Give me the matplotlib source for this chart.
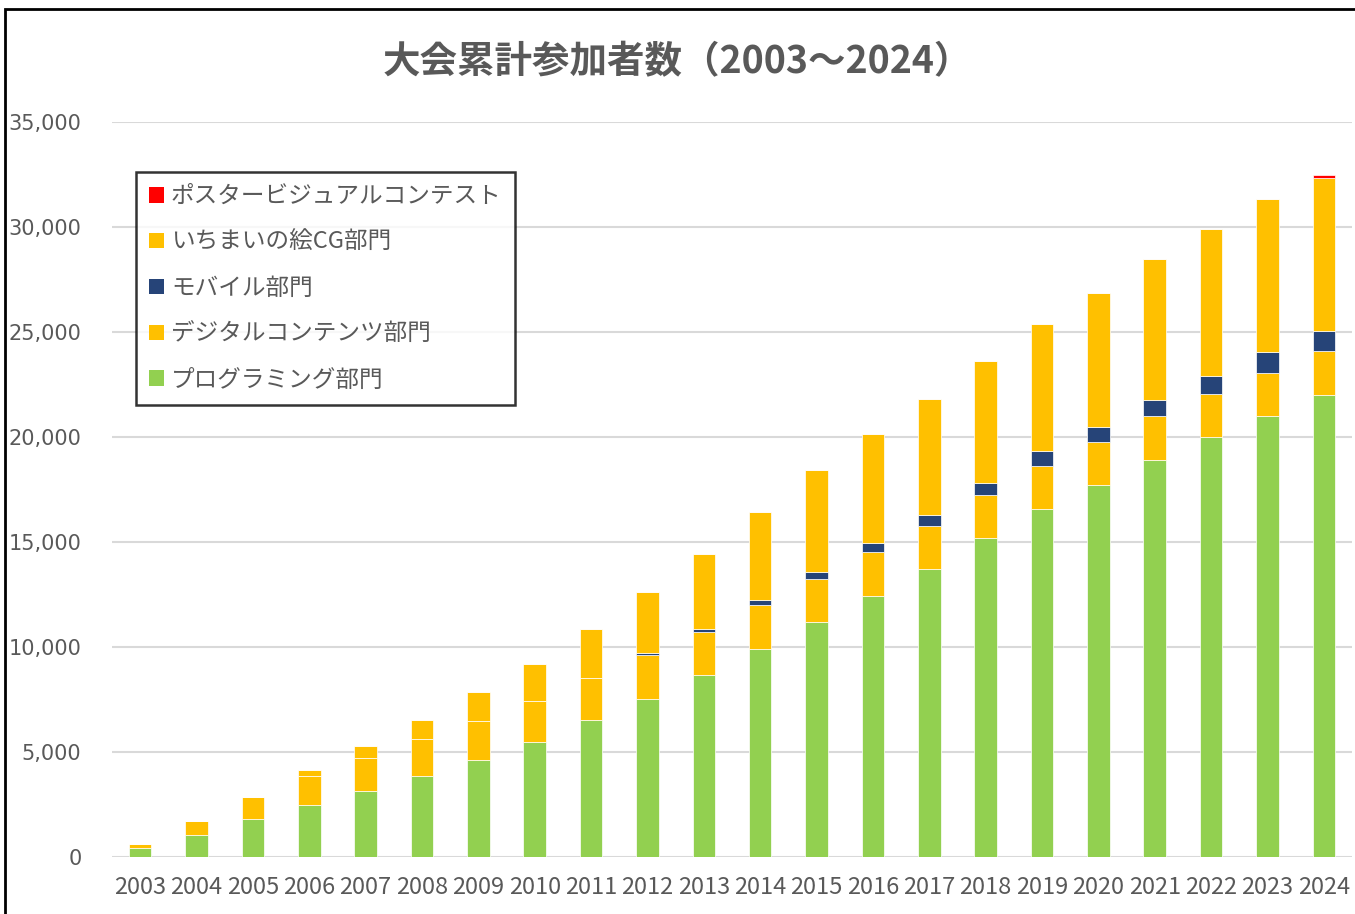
import numpy as np
import matplotlib
matplotlib.use("Agg")
from matplotlib import pyplot as plt
from matplotlib.patches import Patch, Rectangle

plt.rcParams['font.family'] = ['Noto Sans CJK JP', 'DejaVu Sans']

years = [str(y) for y in range(2003, 2025)]

# 累計参加者数（積み上げ）
programming = [430, 1030, 1800, 2460, 3160, 3870, 4630, 5460, 6510, 7540, 8680,
               9900, 11170, 12440, 13730, 15180, 16590, 17700, 18920, 19990, 21010, 22010]
digital = [170, 700, 1040, 1380, 1540, 1730, 1830, 1950, 2000, 2080, 2050,
           2090, 2070, 2080, 2030, 2060, 2040, 2060, 2070, 2060, 2060, 2090]
mobile = [0, 0, 0, 0, 0, 0, 0, 0, 0, 80, 130,
          230, 330, 420, 530, 570, 690, 720, 770, 870, 960, 950]
ichimai = [0, 0, 0, 320, 570, 940, 1410, 1780, 2360, 2930, 3570,
           4210, 4860, 5220, 5520, 5810, 6060, 6380, 6730, 7000, 7290, 7280]
poster = [0] * 21 + [130]

series = [
    ('プログラミング部門', programming, '#92D050'),
    ('デジタルコンテンツ部門', digital, '#FFC000'),
    ('モバイル部門', mobile, '#264478'),
    ('いちまいの絵CG部門', ichimai, '#FFC000'),
    ('ポスタービジュアルコンテスト', poster, '#FF0000'),
]

txt = '#595959'

fig = plt.figure(figsize=(13.55, 9.14), dpi=100)
ax = fig.add_axes([112 / 1355, 1 - 857 / 914, 1240 / 1355, 735 / 914])

x = np.arange(len(years))
bottom = np.zeros(len(years))
handles = []
for name, vals, col in series:
    vals = np.array(vals, dtype=float)
    ax.bar(x, vals, 0.4, bottom=bottom, color=col, edgecolor='white', linewidth=0.5, zorder=3)
    bottom += vals
    handles.append(Patch(facecolor=col, edgecolor='none', label=name))

ax.set_xlim(-0.5, len(years) - 0.5)
ax.set_ylim(0, 35000)
ax.set_yticks(range(0, 35001, 5000))
ax.set_yticklabels([f'{v:,}' for v in range(0, 35001, 5000)],
                   family='DejaVu Sans', fontsize=15, color=txt)
ax.set_xticks(x)
ax.set_xticklabels(years, fontsize=17, color=txt)
ax.tick_params(axis='y', length=0, pad=22)
ax.tick_params(axis='x', length=0, pad=14)
ax.grid(axis='y', color='#d9d9d9', linewidth=1.5, zorder=0)
ax.set_axisbelow(True)
for s in ax.spines.values():
    s.set_visible(False)

fig.text(0.5, 1 - 62 / 914, '大会累計参加者数（2003～2024）', ha='center', va='center',
         fontsize=27, fontweight='bold', color=txt)

leg = ax.legend(handles=handles[::-1], loc='upper left', bbox_to_anchor=(0.019, 0.932),
                borderaxespad=0, fontsize=17, labelcolor=txt, frameon=True, fancybox=False,
                edgecolor='black', handlelength=0.65, handleheight=0.65,
                handletextpad=0.3, labelspacing=0.97, borderpad=0.55)
leg.get_frame().set_linewidth(1.8)

fig.add_artist(Rectangle((5 / 1355, -0.02), 1.05, 1 - 9 / 914 + 0.02,
                         transform=fig.transFigure, fill=False, edgecolor='black', linewidth=2))

fig.savefig('out.png', dpi=100, facecolor='white')
